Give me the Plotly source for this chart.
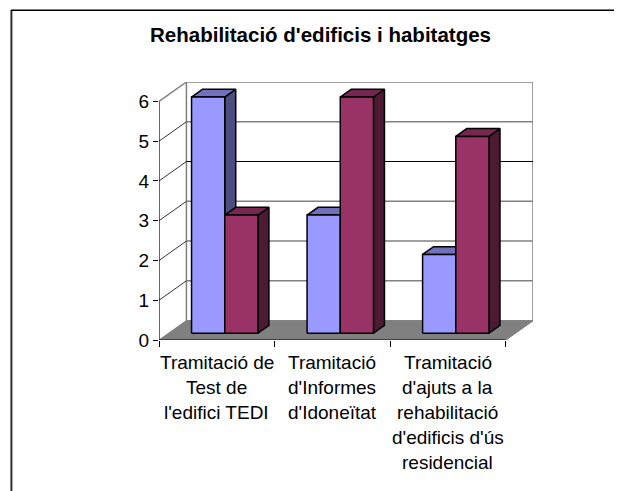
import plotly.graph_objects as go

title = "Rehabilitació d'edificis i habitatges"
categories = [
    ["Tramitació de", "Test de", "l'edifici TEDI"],
    ["Tramitació", "d'Informes", "d'Idoneïtat"],
    ["Tramitació", "d'ajuts a la", "rehabilitació", "d'edificis d'ús", "residencial"],
]
series_a = [6, 3, 2]
series_b = [3, 6, 5]
y_ticks = [0, 1, 2, 3, 4, 5, 6]

W, H = 622, 491
PAGE = 8  # default page margin around the plot
X0, X1, Y0, Y6 = 158.5, 506.0, 340.0, 101.0
PX = (X1 - X0) / 3
PY = (Y0 - Y6) / 6
DX = 27.5 / PX   # wall depth in x units
DY = 19.5 / PY   # wall depth in y units
BAR_W = 33.3 / PX
BAR_X = 23.0 / PX
BAR_F = 0.35     # bar front plane as fraction of depth
BAR_D = 0.40     # bar depth as fraction of depth
BAR_SCALE = 0.99 # perspective shrink of the bar plane
X_MAX = 3 + DX
Y_MAX = 6 + DY
PLOT_W = X_MAX * PX
PLOT_H = Y_MAX * PY

GRID = {1: "#808080", 2: "#808080", 3: "#808080", 4: "#000000", 5: "#808080", 6: "#808080"}


def poly(xs, ys, fill, line="#000000", width=1.5):
    return go.Scatter(x=xs, y=ys, mode="lines", fill="toself", fillcolor=fill,
                      line=dict(color=line, width=width), hoverinfo="skip", showlegend=False)


def seg(xs, ys, color, width=1.0):
    return go.Scatter(x=xs, y=ys, mode="lines", line=dict(color=color, width=width),
                      hoverinfo="skip", showlegend=False)


fig = go.Figure()

# floor
fig.add_trace(poly([0, 3, 3 + DX, DX, 0], [0, 0, DY, DY, 0], "#808080", "#808080", 1))
# walls
fig.add_trace(seg([DX, DX, 3 + DX, 3 + DX], [DY, 6 + DY, 6 + DY, DY], "#808080", 1.5))
fig.add_trace(seg([0, DX], [6, 6 + DY], "#808080", 1.5))
fig.add_trace(seg([3, 3 + DX], [0, DY], "#808080", 1.2))
for v in y_ticks[1:-1]:
    fig.add_trace(seg([0, DX], [v, v + DY], "#000000", 0.8))
    fig.add_trace(seg([DX, 3 + DX], [v + DY, v + DY], GRID[v], 1.5 if GRID[v] == "#808080" else 1.0))

# bars with depth
SERIES = [
    (series_a, 0, "#9999FF", "#7070BB", "#4D4D80"),
    (series_b, 1, "#993366", "#752750", "#4D1A33"),
]
for i in range(3):
    for vals, k, front, top, side in SERIES:
        v = vals[i]
        xl = i + BAR_X + k * BAR_W + BAR_F * DX
        xr = xl + BAR_W
        yb = BAR_F * DY
        yt = v * BAR_SCALE + yb
        dx, dy = BAR_D * DX, BAR_D * DY
        fig.add_trace(poly([xr, xr + dx, xr + dx, xr, xr], [yb, yb + dy, yt + dy, yt, yb], side))
        fig.add_trace(poly([xl, xl + dx, xr + dx, xr, xl], [yt, yt + dy, yt + dy, yt, yt], top))
        fig.add_trace(poly([xl, xr, xr, xl, xl], [yb, yb, yt, yt, yb], front))

# front axis lines
fig.add_trace(seg([0, 0], [0, 6], "#000000", 1.2))
fig.add_trace(seg([0, 3], [0, 0], "#000000", 1.2))

annotations = []
for i, lines in enumerate(categories):
    for j, text in enumerate(lines):
        annotations.append(dict(x=i + 0.5, y=0, xref="x", yref="y", text=text, showarrow=False,
                                xanchor="center", yanchor="middle", yshift=-(22 + 25 * j),
                                font=dict(family="Liberation Sans", size=19, color="#000000")))

fig_w, fig_h = W - PAGE, H - PAGE
left = X0 - PAGE
top_m = Y0 - PLOT_H - PAGE


def px_x(p):
    return (p - X0) / PLOT_W


def px_y(p):
    return (Y0 - p) / PLOT_H


fig.update_layout(
    width=fig_w, height=fig_h, autosize=False,
    paper_bgcolor="#FFFFFF", plot_bgcolor="rgba(0,0,0,0)",
    margin=dict(l=left, r=fig_w - left - PLOT_W, t=top_m, b=fig_h - top_m - PLOT_H, pad=0, autoexpand=False),
    title=dict(text="<b>" + title + "</b>", x=(320.5 - PAGE) / fig_w, xanchor="center",
               y=1 - (35 - PAGE) / fig_h, yanchor="middle",
               font=dict(family="Liberation Sans", size=20.5, color="#000000")),
    xaxis=dict(range=[0, X_MAX], tickmode="array", tickvals=[0, 1, 2, 3], ticktext=["", "", "", ""],
               ticks="outside", ticklen=6, tickwidth=1, tickcolor="#000000", showgrid=False,
               zeroline=False, showline=False),
    yaxis=dict(range=[0, Y_MAX], tickmode="array", tickvals=y_ticks, ticks="outside", ticklen=5,
               tickwidth=1, tickcolor="#000000", showgrid=False, zeroline=False, showline=False,
               tickfont=dict(family="Liberation Sans", size=19, color="#000000")),
    annotations=annotations,
    showlegend=False,
    shapes=[
        dict(type="line", xref="paper", yref="paper", x0=px_x(10.5), x1=px_x(10.5), y0=px_y(9.5), y1=px_y(499),
             line=dict(color="#303030", width=2)),
        dict(type="line", xref="paper", yref="paper", x0=px_x(10), x1=px_x(630), y0=px_y(9.5), y1=px_y(9.5),
             line=dict(color="#000000", width=1.5)),
    ],
)

fig.write_html("out.html", default_width=f"{fig_w}px", default_height=f"{fig_h}px")
